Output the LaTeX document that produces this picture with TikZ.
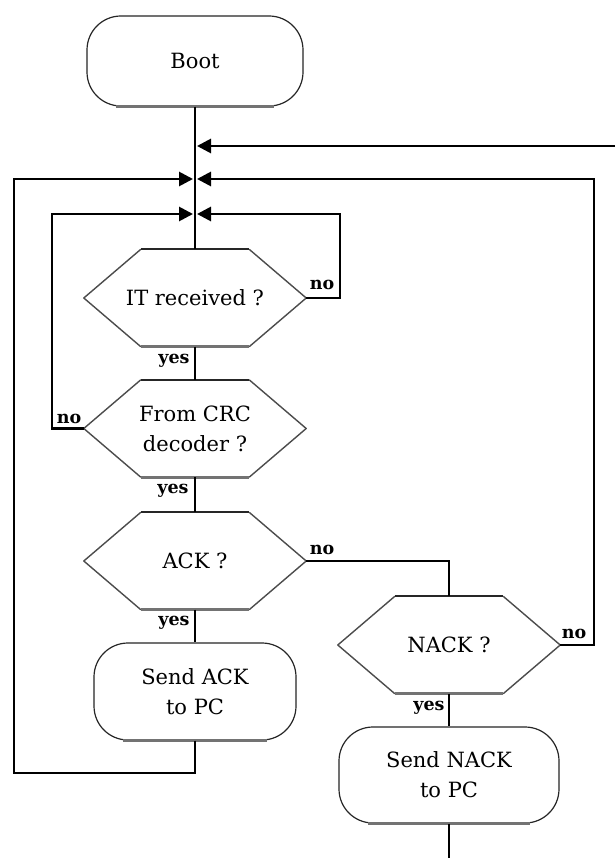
\documentclass[tikz,border=0pt]{standalone}
\usepackage{fontspec}
\setmainfont{DejaVu Serif}
\usetikzlibrary{arrows.meta,calc}

\newcommand\drawhexagon[1]{%
  \draw[black!70,line width=1.4pt,line join=round] ([xshift=57pt]#1.north west) -- (#1.west) -- ([xshift=57pt]#1.south west);
  \draw[black!70,line width=1.4pt,line join=round] ([xshift=-57pt]#1.north east) -- (#1.east) -- ([xshift=-57pt]#1.south east);
  \draw[black!85,line width=2.2pt] ([xshift=57pt]#1.north west) -- ([xshift=-57pt]#1.north east);
  \draw[black!55,line width=3pt] ([xshift=57pt]#1.south west) -- ([xshift=-57pt]#1.south east);
}
\newcommand\termbase[1]{%
  \draw[black!55,line width=2.8pt] ([xshift=30pt]#1.south west) -- ([xshift=-30pt]#1.south east);
}

\begin{document}
\begin{tikzpicture}[x=1pt,y=-1pt,
  flow/.style={line width=2.8pt,black},
  arr/.style={flow,-{Triangle[length=14pt,width=14pt]}},
  term/.style={draw=black!85,line width=1.2pt,rounded corners=34pt,minimum width=#1,inner sep=0pt,align=center,font=\fontsize{21}{30}\selectfont},
  hexbox/.style={minimum width=222pt,minimum height=97pt,inner sep=0pt,align=center,font=\fontsize{21}{30}\selectfont},
  lab/.style={font=\fontsize{17.5}{17.5}\selectfont\bfseries,anchor=base,inner sep=0pt}
]
\fill[white] (0,0) rectangle (615,858);
\useasboundingbox (0,0) rectangle (615,858);

% terminals
\node[term=216pt,minimum height=90pt] (boot) at (195,61) {Boot};
\node[term=202pt,minimum height=97pt] (sack) at (195,691.5) {Send ACK\\to PC};
\node[term=220pt,minimum height=96pt] (snack) at (449,775) {Send NACK\\to PC};
\termbase{boot}
\termbase{sack}
\termbase{snack}

% decisions
\node[hexbox] (it) at (195,298) {IT received ?};
\node[hexbox] (crc) at (195,428.5) {From CRC\\decoder ?};
\node[hexbox] (ack) at (195,561) {ACK ?};
\node[hexbox] (nack) at (449,645) {NACK ?};
\drawhexagon{it}
\drawhexagon{crc}
\drawhexagon{ack}
\drawhexagon{nack}

% junctions
\coordinate (j1) at (195,146);
\coordinate (j2) at (195,179);
\coordinate (j3) at (195,214);
\coordinate (inR) at (615,146);
\coordinate (out) at (449,858);

% main flow
\draw[flow] (boot.south) -- (it.north);
\draw[flow] (it.south) -- (crc.north);
\draw[flow] (crc.south) -- (ack.north);
\draw[flow] (ack.south) -- (sack.north);
\draw[flow] (ack.east) -| (nack.north);
\draw[flow] (nack.south) -- (snack.north);
\draw[flow] (snack.south) -- (out);

% loops with arrows
\draw[arr] (inR) -- ([xshift=2pt]j1);
\draw[arr] (nack.east) -| (594,179) -- ([xshift=2pt]j2);
\draw[arr] (sack.south) |- (14,773) |- ([xshift=-2pt]j2);
\draw[arr] (it.east) -| (340,214) -- ([xshift=2pt]j3);
\draw[arr] (crc.west) -| (52,214) -- ([xshift=-2pt]j3);

% labels
\node[lab] (itno) at (322,289) {no};
\node[lab] (ityes) at (174,363) {yes};
\node[lab] (crcno) at (69,423) {no};
\node[lab] (crcyes) at (173,493) {yes};
\node[lab] (ackno) at (322,554) {no};
\node[lab] (ackyes) at (174,625) {yes};
\node[lab] (nackno) at (574,638) {no};
\node[lab] (nackyes) at (429,710) {yes};
\end{tikzpicture}
\end{document}
